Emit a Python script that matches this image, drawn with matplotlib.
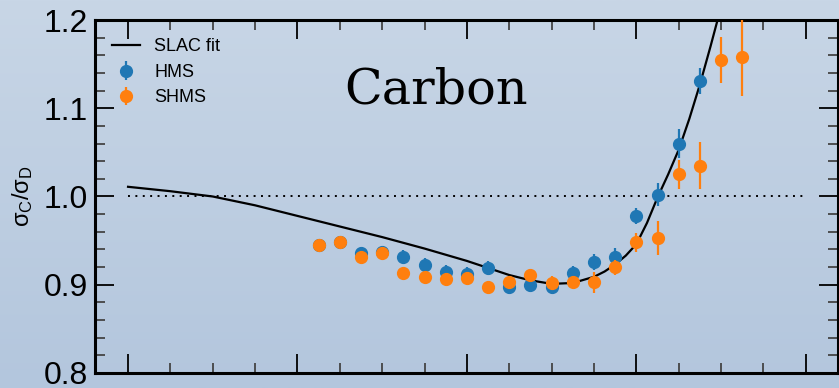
import numpy as np
import matplotlib
matplotlib.use("Agg")
import matplotlib.pyplot as plt
from matplotlib.ticker import MultipleLocator

plt.rcParams['font.family'] = ['Liberation Sans', 'DejaVu Sans']
plt.rcParams['mathtext.fontset'] = 'custom'
plt.rcParams['mathtext.rm'] = 'Liberation Sans'
plt.rcParams['mathtext.it'] = 'Liberation Sans'

# HMS data
hms_x = [0.425, 0.45, 0.475, 0.5, 0.525, 0.55, 0.575, 0.6, 0.625, 0.65,
         0.675, 0.7, 0.725, 0.75, 0.775, 0.8, 0.825, 0.85, 0.875]
hms_y = [0.945, 0.948, 0.936, 0.937, 0.931, 0.922, 0.914, 0.912, 0.919, 0.898,
         0.900, 0.897, 0.913, 0.926, 0.932, 0.978, 1.002, 1.060, 1.131]
hms_err = [0.007, 0.007, 0.007, 0.007, 0.008, 0.008, 0.008, 0.008, 0.008, 0.008,
           0.008, 0.008, 0.0085, 0.009, 0.010, 0.009, 0.013, 0.016, 0.015]

# SHMS data
shms_x = [0.425, 0.45, 0.475, 0.5, 0.525, 0.55, 0.575, 0.6, 0.625, 0.65,
          0.675, 0.7, 0.725, 0.75, 0.775, 0.8, 0.825, 0.85, 0.875, 0.9, 0.925]
shms_y = [0.945, 0.948, 0.931, 0.936, 0.913, 0.909, 0.906, 0.908, 0.897, 0.903,
          0.911, 0.902, 0.903, 0.903, 0.920, 0.948, 0.953, 1.025, 1.035, 1.155, 1.158]
shms_err = [0.006, 0.006, 0.006, 0.006, 0.006, 0.006, 0.006, 0.006, 0.006, 0.006,
            0.007, 0.008, 0.007, 0.012, 0.0085, 0.011, 0.019, 0.016, 0.027, 0.026, 0.044]

# SLAC fit curve
slac_x = [0.2, 0.25, 0.3, 0.35, 0.4, 0.45, 0.5, 0.55, 0.6, 0.625, 0.65, 0.675,
          0.7, 0.725, 0.75, 0.7625, 0.775, 0.7875, 0.8, 0.8125, 0.825, 0.8375,
          0.85, 0.8625, 0.875, 0.8875, 0.9]
slac_y = [1.011, 1.006, 1.000, 0.990, 0.978, 0.966, 0.954, 0.941, 0.927, 0.919,
          0.911, 0.905, 0.901, 0.902, 0.909, 0.915, 0.923, 0.933, 0.946, 0.970,
          0.999, 1.025, 1.053, 1.088, 1.127, 1.170, 1.215]

fig = plt.figure(figsize=(8.39, 3.88), dpi=100)

# slide background gradient
bg = fig.add_axes([0, 0, 1, 1], zorder=-10)
grad = np.linspace(0, 1, 256)[:, None]
top = np.array([200, 214, 230]) / 255
bot = np.array([179, 198, 221]) / 255
img = top[None, None, :] * (1 - grad[:, :, None]) + bot[None, None, :] * grad[:, :, None]
bg.imshow(img, aspect='auto', extent=[0, 1, 0, 1])
bg.axis('off')

ax = fig.add_axes([95/839, 15/388, 743/839, 353/388])
ax.patch.set_alpha(0)

ax.plot(slac_x, slac_y, color='black', lw=1.6, label='SLAC fit', zorder=2)
ax.plot([0.2, 1.0], [1.0, 1.0], color='black', lw=1.4, ls=(0, (1, 2.8)), zorder=1)
ax.errorbar(hms_x, hms_y, yerr=hms_err, fmt='o', color='#1f77b4', ms=8.5,
            elinewidth=1.6, capsize=0, label='HMS', zorder=3)
ax.errorbar(shms_x, shms_y, yerr=shms_err, fmt='o', color='#ff7f0e', ms=8.5,
            elinewidth=1.6, capsize=0, label='SHMS', zorder=4)

ax.set_xlim(0.161, 1.038)
ax.set_ylim(0.8, 1.2)
ax.xaxis.set_major_locator(MultipleLocator(0.2))
ax.xaxis.set_minor_locator(MultipleLocator(0.05))
ax.yaxis.set_major_locator(MultipleLocator(0.1))
ax.yaxis.set_minor_locator(MultipleLocator(0.02))
ax.set_yticks([0.8, 0.9, 1.0, 1.1, 1.2])
ax.set_yticklabels(['0.8', '0.9', '1.0', '1.1', '1.2'])
ax.tick_params(which='both', direction='in', top=True, right=True,
               labelbottom=False, width=1.3, colors='black')
ax.tick_params(which='major', length=14, labelsize=23, pad=5)
ax.tick_params(which='minor', length=7, color='#444444')
for s in ax.spines.values():
    s.set_linewidth(2.2)

ax.set_ylabel(r'$\sigma_C/\sigma_D$', fontsize=17, labelpad=6)

leg = ax.legend(loc='upper left', bbox_to_anchor=(0.0229, 0.948), frameon=False,
                fontsize=13, handlelength=1.55, handletextpad=0.8,
                labelspacing=0.47, borderpad=0, borderaxespad=0)

fig.text(436/839, 1 - 90/388, 'Carbon', family='DejaVu Serif', fontsize=35.5,
         ha='center', va='center')

fig.savefig('out.png', dpi=100)
